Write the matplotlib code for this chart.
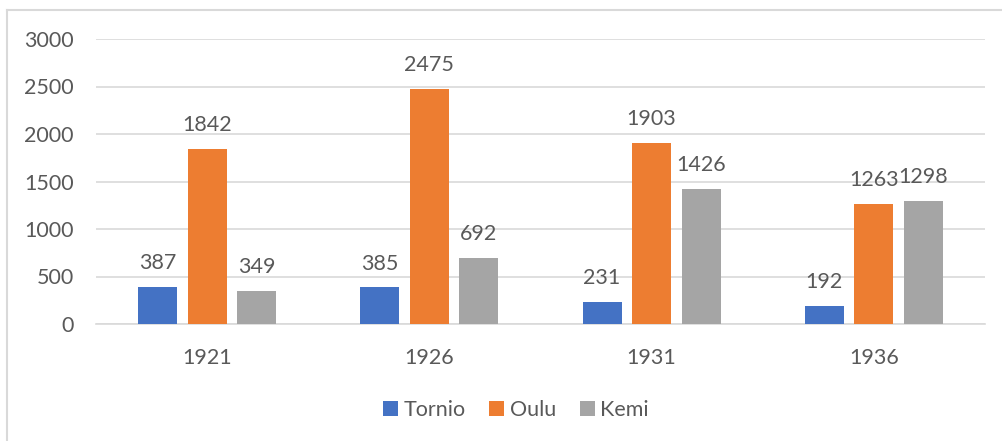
import matplotlib
matplotlib.use("Agg")
import numpy as np
import matplotlib.pyplot as plt
from matplotlib.lines import Line2D

years = ["1921", "1926", "1931", "1936"]
tornio = [387, 385, 231, 192]
oulu = [1842, 2475, 1903, 1263]
kemi = [349, 692, 1426, 1298]

series = [("Tornio", tornio, "#4472C4"), ("Oulu", oulu, "#ED7D31"), ("Kemi", kemi, "#A5A5A5")]
text_color = "#595959"

plt.rcParams["font.family"] = ["Lato", "DejaVu Sans"]

fig = plt.figure(figsize=(10.03, 4.41), dpi=100)
ax = fig.add_axes([96 / 1003, 1 - 324 / 441, (985 - 96) / 1003, (324 - 39) / 441])

x = np.arange(len(years))
pitch = 0.223
width = 0.176

for i, (name, values, color) in enumerate(series):
    positions = x + (i - 1) * pitch
    bars = ax.bar(positions, values, width=width, color=color, label=name, zorder=3)
    for bar, v in zip(bars, values):
        ax.annotate(str(v), (bar.get_x() + bar.get_width() / 2, v),
                    xytext=(0, 10), textcoords="offset points",
                    ha="center", va="bottom", fontsize=15.5, color=text_color)

ax.set_xlim(-0.5, len(years) - 0.5)
ax.set_ylim(0, 3000)
ax.set_yticks(range(0, 3001, 500))
ax.set_xticks(x)
ax.set_xticklabels(years)
ax.yaxis.grid(True, color="#D9D9D9", linewidth=1.2, zorder=0)
ax.set_axisbelow(True)
ax.tick_params(axis="both", length=0, labelsize=15.5, colors=text_color)
ax.tick_params(axis="x", pad=17)
ax.tick_params(axis="y", pad=16)
for side in ["top", "right", "left"]:
    ax.spines[side].set_visible(False)
ax.spines["bottom"].set_color("#D9D9D9")
ax.spines["bottom"].set_linewidth(1.2)

leg = fig.legend(loc="center", bbox_to_anchor=(516 / 1003, 1 - 410 / 441), ncol=3,
                 frameon=False, fontsize=15.5, handlelength=0.7, handleheight=0.7,
                 handletextpad=0.25, columnspacing=1.1)
for t in leg.get_texts():
    t.set_color(text_color)

# outer chart border (top and left edges visible)
fig.add_artist(Line2D([7 / 1003, 1.0], [1 - 10 / 441, 1 - 10 / 441], color="#D9D9D9", linewidth=1.5))
fig.add_artist(Line2D([7 / 1003, 7 / 1003], [0, 1 - 10 / 441], color="#D9D9D9", linewidth=1.5))

fig.savefig("out.png", dpi=100)
